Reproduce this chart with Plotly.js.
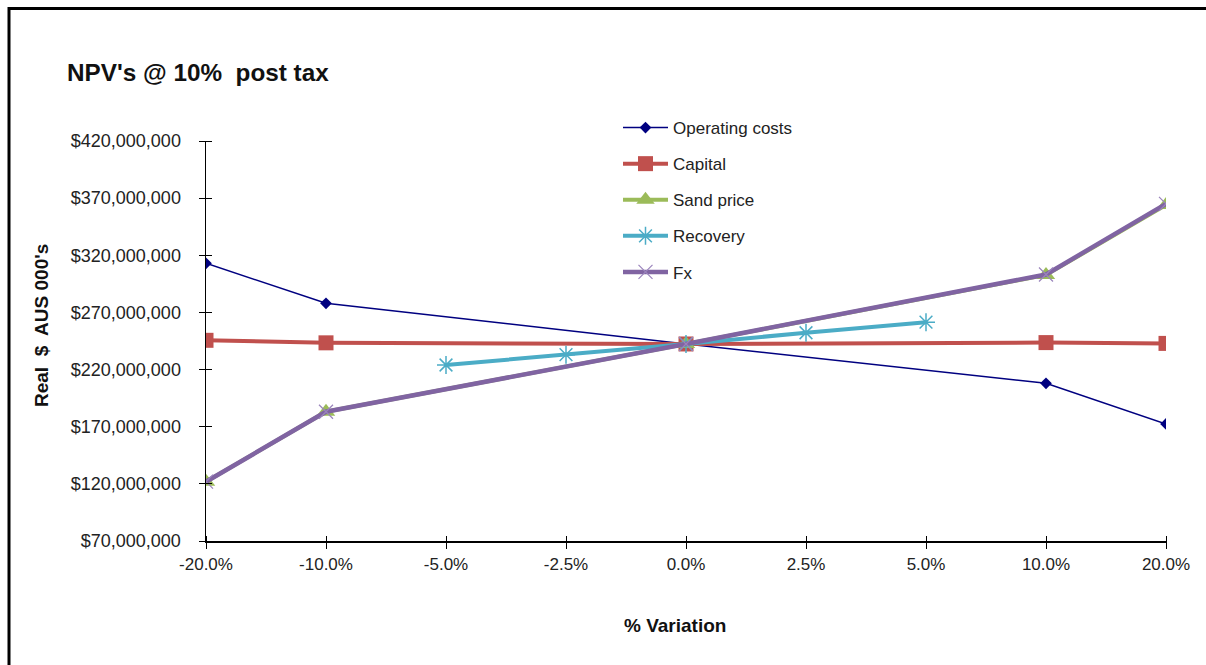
<!DOCTYPE html>
<html>
<head>
<meta charset="utf-8">
<script src="https://cdn.plot.ly/plotly-3.0.1.min.js"></script>
<style>
html,body{margin:0;padding:0;background:#fff;}
#chart{width:1206px;height:665px;}
</style>
</head>
<body>
<div id="chart"></div>
<script>
const categories = ['-20.0%','-10.0%','-5.0%','-2.5%','0.0%','2.5%','5.0%','10.0%','20.0%'];
const yTicks = [70e6,120e6,170e6,220e6,270e6,320e6,370e6,420e6];
const yTickLabels = ['$70,000,000','$120,000,000','$170,000,000','$220,000,000','$270,000,000','$320,000,000','$370,000,000','$420,000,000'];

const operatingCosts = [313.0e6, 278.0e6, null, null, 242.4e6, null, null, 208.0e6, 172.4e6];
const capital        = [245.6e6, 243.4e6, null, null, 242.4e6, null, null, 243.6e6, 242.9e6];
const sandPrice      = [121.9e6, 183.1e6, null, null, 242.4e6, null, null, 302.8e6, 364.0e6];
const recovery       = [null, null, 224.0e6, 233.0e6, 242.4e6, 252.2e6, 261.5e6, null, null];
const fx             = [121.9e6, 183.1e6, null, null, 242.4e6, null, null, 303.2e6, 365.0e6];

const font = 'Arial, "Liberation Sans", sans-serif';

function tr(name, y, color, width, symbol, size, mline, mcolor) {
  return {
    type: 'scatter', mode: 'lines+markers', name: name, legendgroup: name,
    x: categories, y: y, connectgaps: true,
    line: {color: color, width: width},
    marker: {symbol: symbol, size: size, color: mcolor || color, line: {color: mcolor || color, width: mline}}
  };
}

const data = [
  tr('Operating costs', operatingCosts, '#000080', 1.5, 'diamond', 9, 0),
  tr('Capital', capital, '#C0504D', 4, 'square', 15, 0),
  tr('Sand price', sandPrice, '#9BBB59', 4, 'triangle-up', 16, 0),
  tr('Recovery', recovery, '#4BACC6', 4, 'asterisk-open', 15, 1.5),
  tr('Fx', fx, '#8064A2', 4.5, 'x-thin-open', 14, 1.2, '#9A84BC'),
  // carrier for the crossing tick marks (draws nothing itself)
  {type: 'scatter', mode: 'none', x: categories, y: capital, xaxis: 'x2', yaxis: 'y2',
   showlegend: false, hoverinfo: 'skip'}
];

const X0 = 206, X1 = 1166, Y0 = 141, Y1 = 541;
const px = v => (v - X0) / (X1 - X0);
const py = v => (Y1 - v) / (Y1 - Y0);

const layout = {
  width: 1206, height: 665,
  margin: {l: 206, r: 40, t: 141, b: 124},
  paper_bgcolor: '#fff', plot_bgcolor: '#fff',
  font: {family: font, color: '#222', size: 18},
  title: {
    text: "NPV's @ 10%\u00a0 post tax",
    font: {family: font, size: 24.3, color: '#111', weight: 'bold'},
    x: 67 / 1206, xanchor: 'left', xref: 'container',
    y: 1 - 72 / 665, yanchor: 'middle', yref: 'container'
  },
  xaxis: {
    type: 'category', range: [0, 8],
    showgrid: false, zeroline: false,
    showline: true, linecolor: '#000', linewidth: 1.5,
    ticks: 'outside', ticklen: 6, tickcolor: '#000', tickwidth: 1,
    tickfont: {family: font, size: 17, color: '#222'},
    ticklabelstandoff: 1
  },
  yaxis: {
    range: [70e6, 420e6],
    tickvals: yTicks, ticktext: yTickLabels,
    showgrid: false, zeroline: false,
    showline: true, linecolor: '#000', linewidth: 1.5,
    ticks: 'outside', ticklen: 6, tickcolor: '#000', tickwidth: 1,
    tickfont: {family: font, size: 18, color: '#222'},
    ticklabelstandoff: 14
  },
  xaxis2: {
    overlaying: 'x', anchor: 'free', position: 6 / 400, side: 'bottom', type: 'category', range: [0, 8],
    showgrid: false, zeroline: false, showline: false, showticklabels: false,
    ticks: 'outside', ticklen: 12, tickcolor: '#000', tickwidth: 1
  },
  yaxis2: {
    overlaying: 'y', anchor: 'free', position: 6 / 960, side: 'left', range: [70e6, 420e6], tickmode: 'array', tickvals: yTicks,
    showgrid: false, zeroline: false, showline: false, showticklabels: false,
    ticks: 'outside', ticklen: 12, tickcolor: '#000', tickwidth: 1
  },
  showlegend: true,
  legend: {
    x: px(618), xanchor: 'left', y: py(110), yanchor: 'top',
    bgcolor: 'rgba(0,0,0,0)', borderwidth: 0,
    font: {family: font, size: 17, color: '#222'},
    traceorder: 'grouped', tracegroupgap: 11, itemwidth: 45
  },
  annotations: [
    {text: '% Variation', xref: 'paper', yref: 'paper', x: px(675), y: py(625),
     xanchor: 'center', yanchor: 'middle', showarrow: false,
     font: {family: font, size: 19, color: '#111', weight: 'bold'}},
    {text: "Real\u00a0 $\u00a0 AUS 000's", xref: 'paper', yref: 'paper', x: px(41), y: py(326),
     xanchor: 'center', yanchor: 'middle', showarrow: false, textangle: -90,
     font: {family: font, size: 19, color: '#111', weight: 'bold'}}
  ],
  shapes: [
    {type: 'line', xref: 'paper', yref: 'paper', x0: px(9), x1: px(1215), y0: py(8.5), y1: py(8.5), line: {color: '#000', width: 3}},
    {type: 'line', xref: 'paper', yref: 'paper', x0: px(9), x1: px(9), y0: py(7), y1: py(680), line: {color: '#000', width: 3}}
  ]
};

Plotly.newPlot('chart', data, layout, {displayModeBar: false, staticPlot: true});
</script>
</body>
</html>
